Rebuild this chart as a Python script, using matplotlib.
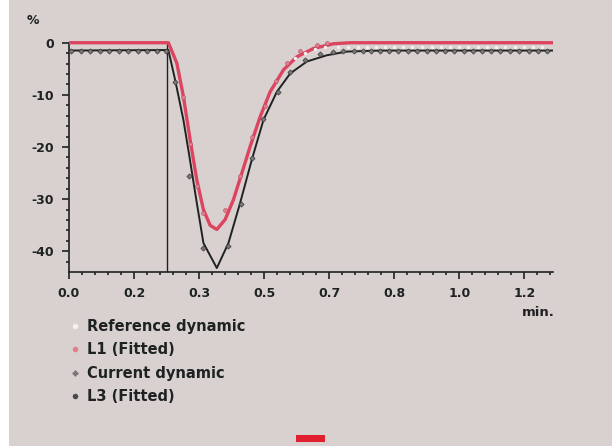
import numpy as np
import matplotlib
matplotlib.use("Agg")
import matplotlib.pyplot as plt
from matplotlib.lines import Line2D
from matplotlib.patches import Rectangle
from matplotlib.ticker import MultipleLocator, FixedLocator

# fitted curves (time in min, value in %)
l1_t = [0.0, 0.2546, 0.2762, 0.2931, 0.3103, 0.3274, 0.3444, 0.3615, 0.3787, 0.400,
        0.4213, 0.4428, 0.4641, 0.4897, 0.5154, 0.5495, 0.5838, 0.6264, 0.6777, 0.7205, 1.24]
l1_y = [0.0, 0.0, -3.9, -10.3, -18.6, -26.3, -32.0, -35.0, -35.8, -33.9,
        -30.1, -25.0, -19.9, -14.2, -9.4, -5.2, -2.7, -1.1, -0.2, 0.0, 0.0]

l3_t = [0.0, 0.2546, 0.2718, 0.2931, 0.3085, 0.3274, 0.3444, 0.3787, 0.4085, 0.4385,
        0.4685, 0.4982, 0.5326, 0.5667, 0.6095, 0.6608, 0.7121, 0.797, 1.24]
l3_y = [-1.5, -1.4, -7.1, -14.8, -21.8, -30.7, -38.4, -43.2, -38.4, -30.7,
        -22.4, -14.8, -9.4, -5.9, -3.6, -2.4, -1.7, -1.5, -1.5]

# measured points
cur_t = [0.005, 0.030, 0.054, 0.079, 0.103, 0.127, 0.152, 0.176, 0.199, 0.225, 0.249,
         0.272, 0.308, 0.344, 0.407, 0.440, 0.468, 0.498, 0.535, 0.567, 0.605, 0.644, 0.677,
         0.703, 0.729, 0.752, 0.774, 0.797, 0.821, 0.844, 0.868, 0.892, 0.917, 0.941, 0.964,
         0.987, 1.011, 1.035, 1.058, 1.082, 1.105, 1.131, 1.154, 1.178, 1.201, 1.225]
cur_y = [-1.5, -1.5, -1.5, -1.5, -1.5, -1.5, -1.5, -1.5, -1.5, -1.5, -1.5,
         -7.5, -25.5, -39.3, -39.0, -30.9, -22.1, -14.6, -9.4, -5.6, -3.3, -2.2, -1.8,
         -1.5, -1.5, -1.5, -1.5, -1.5, -1.5, -1.5, -1.5, -1.5, -1.5, -1.5, -1.5,
         -1.5, -1.5, -1.5, -1.5, -1.5, -1.5, -1.5, -1.5, -1.5, -1.5, -1.5]

l1_pts_t = [0.292, 0.310, 0.327, 0.344, 0.400, 0.438, 0.468, 0.503, 0.531, 0.558, 0.592, 0.635, 0.660]
l1_pts_y = [-10.5, -19.5, -27.5, -32.7, -32.0, -25.5, -18.1, -12.1, -7.3, -3.9, -1.5, -0.4, -0.1]

ref_t = [0.580, 0.605, 0.630, 0.655, 0.690, 0.715, 0.740, 0.763, 0.786, 0.809, 0.833,
         0.856, 0.880, 0.904, 0.929, 0.953, 0.976, 0.999, 1.023, 1.047, 1.070, 1.094,
         1.118, 1.143, 1.166, 1.190, 1.213]
ref_y = [-3.0, -2.0, -1.3, -0.9, -0.8, -0.8, -0.8, -0.8, -0.8, -0.8, -0.8,
         -0.8, -0.8, -0.8, -0.8, -0.8, -0.8, -0.8, -0.8, -0.8, -0.8, -0.8,
         -0.8, -0.8, -0.8, -0.8, -0.8]

xtick_labels = ["0.0", "0.2", "0.3", "0.5", "0.7", "0.8", "1.0", "1.2"]
inj_t = 0.25

bg = "#d9d1d0"
ink = "#1e2222"

fig = plt.figure(figsize=(6.12, 4.46), dpi=100, facecolor=bg)
fig.patches.append(Rectangle((0, 0), 9 / 612, 1, transform=fig.transFigure,
                             facecolor="white", edgecolor="none"))
ax = fig.add_axes([69 / 612, 1 - 271.7 / 446, (553 - 69) / 612, (271.7 - 37.5) / 446])
ax.set_facecolor(bg)

ax.plot(l3_t, l3_y, color=ink, lw=1.4, zorder=3)
ax.plot(l1_t, l1_y, color="#dc4460", lw=2.4, zorder=4)
ax.plot([inj_t, inj_t], [0, -43.9], color=ink, lw=1.0, zorder=3)

ax.scatter(ref_t, ref_y, s=6, color="#f4f0f0", zorder=5, linewidths=0)
ax.scatter(cur_t, cur_y, s=7, marker="D", color="#7c7878", edgecolors="#3a3a3a",
           linewidths=0.5, zorder=5)
ax.scatter(l1_pts_t, l1_pts_y, s=8, color="#e0808e", edgecolors="#b05060",
           linewidths=0.4, zorder=6)

ax.set_xlim(0, 1.24)
ax.set_ylim(-43.9, 1.0)
ax.xaxis.set_major_locator(FixedLocator([i / 6 for i in range(8)]))
ax.xaxis.set_minor_locator(MultipleLocator(1 / 30))
ax.set_xticklabels(xtick_labels)
ax.yaxis.set_major_locator(FixedLocator([0, -10, -20, -30, -40]))
ax.yaxis.set_minor_locator(MultipleLocator(2))
ax.set_yticklabels(["0", "-10", "-20", "-30", "-40"])

for s in ["top", "right"]:
    ax.spines[s].set_visible(False)
for s in ["left", "bottom"]:
    ax.spines[s].set_color(ink)
    ax.spines[s].set_linewidth(1.2)
ax.spines["left"].set_bounds(-43.9, 0)

ax.tick_params(which="major", length=5, width=1.2, color=ink, labelsize=9,
               labelcolor=ink, pad=6)
ax.tick_params(which="minor", length=2.5, width=1.2, color=ink)
for lbl in ax.get_xticklabels() + ax.get_yticklabels():
    lbl.set_fontweight("bold")

fig.text(33 / 612, 1 - 20 / 446, "%", ha="center", va="center", fontsize=9,
         fontweight="bold", color=ink)
fig.text(538 / 612, 1 - 312 / 446, "min.", ha="center", va="center", fontsize=9.5,
         fontweight="bold", color=ink)

handles = [
    Line2D([], [], ls="none", marker="o", ms=4, color="#f4f0f0", mec="none"),
    Line2D([], [], ls="none", marker="o", ms=4, color="#e0808e", mec="none"),
    Line2D([], [], ls="none", marker="D", ms=3.5, color="#7c7878", mec="none"),
    Line2D([], [], ls="none", marker="o", ms=4, color="#4a4a4a", mec="none"),
]
labels = ["Reference dynamic", "L1 (Fitted)", "Current dynamic", "L3 (Fitted)"]
leg = fig.legend(handles, labels, loc="upper left", bbox_to_anchor=(69 / 612, 1 - 319 / 446),
                 frameon=False, handlelength=0.8, handletextpad=0.45, labelspacing=0.58,
                 prop={"weight": "bold", "size": 10.5}, borderaxespad=0, borderpad=0)
for t in leg.get_texts():
    t.set_color(ink)

fig.patches.append(Rectangle((296 / 612, 1 - 442 / 446), 29 / 612, 7 / 446,
                             transform=fig.transFigure, facecolor="#e02030",
                             edgecolor="none"))

fig.savefig("out.png", dpi=100, facecolor=bg)
